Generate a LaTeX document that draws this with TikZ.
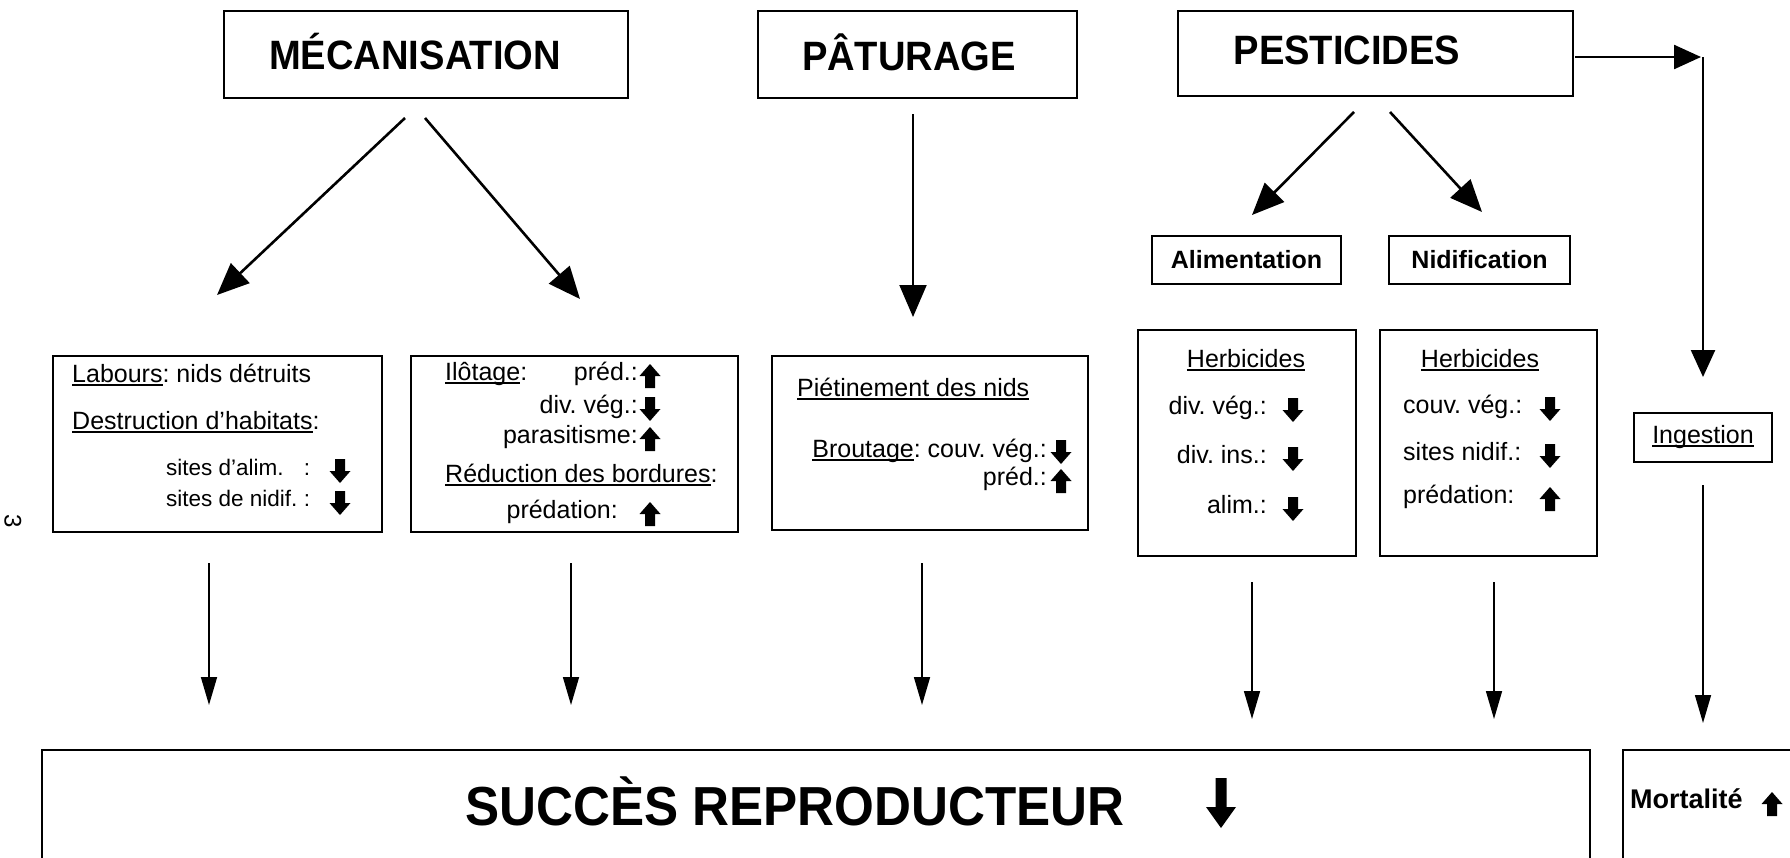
\documentclass[tikz,border=0pt]{standalone}
\usepackage{fontspec}
\setmainfont{Liberation Sans}
\newfontfamily\condf[FakeStretch=0.93]{Liberation Sans}
\usetikzlibrary{arrows.meta}
\frenchspacing
\newcommand{\myul}[1]{\setbox0=\hbox{#1}\rlap{\rule[-0.13em]{\wd0}{0.07em}}\box0}
\tikzset{
  box/.style={draw, line width=2.5pt, inner sep=0pt},
  conn/.style={line width=2.6pt, -{Triangle[length=32pt,width=27pt]}},
  vconn/.style={line width=1.6pt, -{Triangle[length=28pt,width=16pt]}},
  hconn/.style={line width=2.4pt, -{Triangle[length=27pt,width=24pt]}},
  txt/.style={inner sep=0pt, font=\fontsize{25}{29}\selectfont},
  head/.style={inner sep=0pt, font=\condf\bfseries\fontsize{41}{48}\selectfont},
  sub/.style={inner sep=0pt, font=\bfseries\fontsize{25}{30}\selectfont},
  dnarr/.pic={\fill (-5,-12) -- (5,-12) -- (5,0) -- (10.5,0) -- (0,12) -- (-10.5,0) -- (-5,0) -- cycle;},
  uparr/.pic={\fill (-5,12) -- (5,12) -- (5,0) -- (10.5,0) -- (0,-12) -- (-10.5,0) -- (-5,0) -- cycle;}
}
\begin{document}
\begin{tikzpicture}[x=1pt,y=-1pt]
\useasboundingbox (0,0) rectangle (1790,857);
\clip (0,0) rectangle (1790,857);
% top boxes
\node[box, minimum width=404pt, minimum height=87pt] (meca) at (426,54.5) {};
\node[head] (mecat) at (415,52) {MÉCANISATION};
\node[box, minimum width=319pt, minimum height=87pt] (patu) at (917.5,54.5) {};
\node[head] (patut) at (909,52) {PÂTURAGE};
\node[box, minimum width=395pt, minimum height=85pt] (pest) at (1375.5,53.5) {};
\node[head] (pestt) at (1347,50) {PESTICIDES};
% sub boxes
\node[box, sub, minimum width=189pt, minimum height=48pt] (alim) at (1246.5,260) {Alimentation};
\node[box, sub, minimum width=181pt, minimum height=48pt] (nidi) at (1479.5,260) {Nidification};
% middle boxes
\node[box, minimum width=329pt, minimum height=176pt] (b1) at (217.5,444) {};
\node[box, minimum width=327pt, minimum height=176pt] (b2) at (574.5,444) {};
\node[box, minimum width=316pt, minimum height=174pt] (b3) at (930,443) {};
\node[box, minimum width=218pt, minimum height=226pt] (b4) at (1247,443) {};
\node[box, minimum width=217pt, minimum height=226pt] (b5) at (1488.5,443) {};
\node[box, txt, minimum width=138pt, minimum height=49pt] (ing) at (1703,437.5) {\myul{Ingestion}};
% bottom boxes
\node[box, minimum width=1548pt, minimum height=150pt] (succ) at (816,825) {};
\node[box, minimum width=227pt, minimum height=150pt] (mort) at (1736.5,825) {};
\node[inner sep=0pt, font=\condf\bfseries\fontsize{55}{60}\selectfont] (succt) at (795,801) {SUCCÈS REPRODUCTEUR};
\fill (1215.5,778) -- (1226.5,778) -- (1226.5,807) -- (1236,807) -- (1221,828) -- (1206,807) -- (1215.5,807) -- cycle;
\node[inner sep=0pt, anchor=mid west, font=\bfseries\fontsize{27}{30}\selectfont] (mortt) at (1630,806) {Mortalité};
\pic at (1772,804) {uparr};
% box 1 text
\node[txt, anchor=mid west] (t1a) at (72,380) {\myul{Labours}: nids détruits};
\node[txt, anchor=mid west] (t1b) at (72,427) {\myul{Destruction d'habitats}:};
\node[txt, anchor=mid west, font=\fontsize{22.5}{27}\selectfont] (t1c) at (166,473) {\makebox[5.84em][l]{sites d'alim.}\ :};
\node[txt, anchor=mid west, font=\fontsize{22.5}{27}\selectfont] (t1d) at (166,504) {\makebox[5.84em][l]{sites de nidif.}\ :};
\pic at (340,471) {dnarr};
\pic at (340,503) {dnarr};
% box 2 text
\node[txt, anchor=mid west] (t2a) at (445,378) {\myul{Ilôtage}:};
\node[txt, anchor=mid east] (t2b) at (638,378) {préd.:};
\node[txt, anchor=mid east] (t2c) at (638,411) {div. vég.:};
\node[txt, anchor=mid east] (t2d) at (638,441) {parasitisme:};
\node[txt, anchor=mid west] (t2e) at (445,480) {\myul{Réduction des bordures}:};
\node[txt, anchor=mid east] (t2f) at (618,516) {prédation:};
\pic at (650,376) {uparr};
\pic at (650,409) {dnarr};
\pic at (650,439) {uparr};
\pic at (650,514) {uparr};
% box 3 text
\node[txt, anchor=mid west] (t3a) at (797,394) {\myul{Piétinement des nids}};
\node[txt, anchor=mid east] (t3b) at (1047,455) {\myul{Broutage}: couv. vég.:};
\node[txt, anchor=mid east] (t3c) at (1047,483) {préd.:};
\pic at (1061,452) {dnarr};
\pic at (1061,481) {uparr};
% box 4 text
\node[txt] (t4a) at (1246,360) {\myul{Herbicides}};
\node[txt, anchor=mid east] (t4b) at (1267,412) {div. vég.:};
\node[txt, anchor=mid east] (t4c) at (1267,461) {div. ins.:};
\node[txt, anchor=mid east] (t4d) at (1267,511) {alim.:};
\pic at (1293,410) {dnarr};
\pic at (1293,459) {dnarr};
\pic at (1293,509) {dnarr};
% box 5 text
\node[txt] (t5a) at (1480,360) {\myul{Herbicides}};
\node[txt, anchor=mid west] (t5b) at (1403,411) {couv. vég.:};
\node[txt, anchor=mid west] (t5c) at (1403,458) {sites nidif.:};
\node[txt, anchor=mid west] (t5d) at (1403,501) {prédation:};
\pic at (1550,409) {dnarr};
\pic at (1550,456) {dnarr};
\pic at (1550,499) {uparr};
% page number
\node[rotate=-90, inner sep=0pt, font=\fontsize{24}{24}\selectfont] (pg) at (13,521) {3};
% connector end points
\coordinate (m1s) at (405,118); \coordinate (m1e) at (217,295);
\coordinate (m2s) at (425,118); \coordinate (m2e) at (580,299);
\coordinate (p1s) at (913,114); \coordinate (p1e) at (913,317);
\coordinate (s1s) at (1354,112); \coordinate (s1e) at (1252,215);
\coordinate (s2s) at (1390,112); \coordinate (s2e) at (1482,212);
\coordinate (r1s) at (1575,57); \coordinate (r1e) at (1701,57);
\coordinate (v1s) at (1703,57); \coordinate (v1e) at (1703,377);
\coordinate (v2s) at (1703,485); \coordinate (v2e) at (1703,723);
\coordinate (d1s) at (209,563); \coordinate (d1e) at (209,705);
\coordinate (d2s) at (571,563); \coordinate (d2e) at (571,705);
\coordinate (d3s) at (922,563); \coordinate (d3e) at (922,705);
\coordinate (d4s) at (1252,582); \coordinate (d4e) at (1252,719);
\coordinate (d5s) at (1494,582); \coordinate (d5e) at (1494,719);
% connectors
\draw[conn] (m1s) -- (m1e);
\draw[conn] (m2s) -- (m2e);
\draw[conn, line width=2pt] (p1s) -- (p1e);
\draw[conn] (s1s) -- (s1e);
\draw[conn] (s2s) -- (s2e);
\draw[hconn] (r1s) -- (r1e);
\draw[hconn] (v1s) -- (v1e);
\draw[vconn] (v2s) -- (v2e);
\draw[vconn] (d1s) -- (d1e);
\draw[vconn] (d2s) -- (d2e);
\draw[vconn] (d3s) -- (d3e);
\draw[vconn] (d4s) -- (d4e);
\draw[vconn] (d5s) -- (d5e);
\end{tikzpicture}
\end{document}
